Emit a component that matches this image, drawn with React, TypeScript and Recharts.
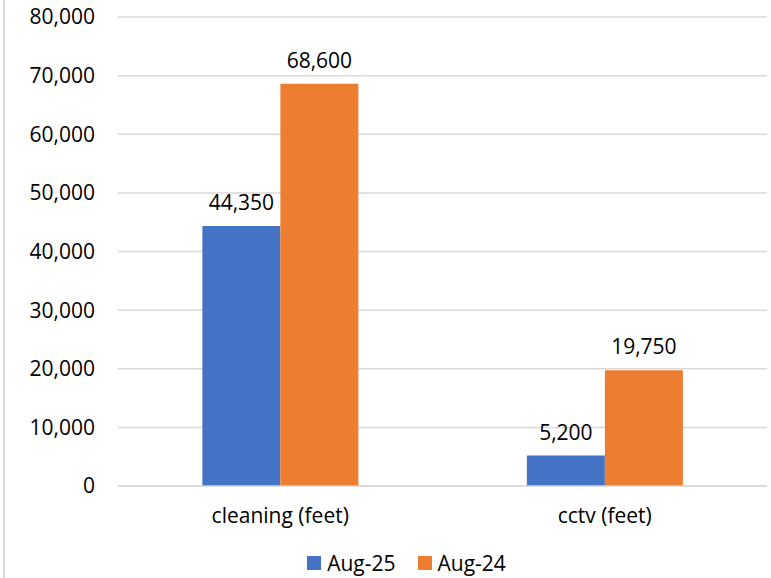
import { Bar, BarChart, CartesianGrid, LabelList, Legend, XAxis, YAxis } from "recharts";

const categories = ["cleaning (feet)", "cctv (feet)"];
const aug25 = [44350, 5200];
const aug24 = [68600, 19750];
const yTicks = [0, 10000, 20000, 30000, 40000, 50000, 60000, 70000, 80000];
const seriesNames = ["Aug-25", "Aug-24"];
const seriesColors = ["#4472C4", "#ED7D31"];

const data = categories.map((name, i) => ({ name, aug25: aug25[i], aug24: aug24[i] }));

const font = "'Open Sans', 'Liberation Sans', sans-serif";
const fmt = (v: number) => v.toLocaleString("en-US");

function LegendBox() {
  return (
    <div style={{ display: "flex", justifyContent: "center", gap: 22, fontSize: 21, lineHeight: "26px", fontFamily: font, color: "#000", paddingTop: 14, paddingLeft: 46 }}>
      {seriesNames.map((n, i) => (
        <span key={n} style={{ display: "flex", alignItems: "center", gap: 6 }}>
          <span style={{ width: 14, height: 14, background: seriesColors[i], display: "inline-block" }} />
          {n}
        </span>
      ))}
    </div>
  );
}

export default function App() {
  return (
    <div style={{ position: "absolute", left: 0, top: 0, width: 771, height: 578, background: "#fff", fontFamily: font }}>
      <div style={{ position: "absolute", left: 3, top: 0, width: 2, height: 578, background: "#d9d9d9" }} />
      <BarChart width={771} height={578} data={data} margin={{ top: 17, right: 4, left: 0, bottom: 0 }} barCategoryGap="26%" barGap={0}>
        <CartesianGrid vertical={false} stroke="#d9d9d9" strokeWidth={1.5} />
        <XAxis dataKey="name" height={50} tickLine={false} axisLine={{ stroke: "#d9d9d9", strokeWidth: 1.5 }} tick={{ fill: "#000", fontSize: 21, fontFamily: font }} tickMargin={16} />
        <YAxis width={118} domain={[0, 80000]} ticks={yTicks} tickFormatter={fmt} axisLine={false} tickLine={false} tickSize={0} tickMargin={23} tick={{ fill: "#000", fontSize: 21, fontFamily: font }} />
        <Legend verticalAlign="bottom" height={42} content={() => <LegendBox />} />
        <Bar dataKey="aug25" name={seriesNames[0]} fill={seriesColors[0]} isAnimationActive={false}>
          <LabelList dataKey="aug25" position="top" offset={16} formatter={(v: any) => fmt(Number(v))} style={{ fill: "#000", fontSize: 21, fontFamily: font }} />
        </Bar>
        <Bar dataKey="aug24" name={seriesNames[1]} fill={seriesColors[1]} isAnimationActive={false}>
          <LabelList dataKey="aug24" position="top" offset={16} formatter={(v: any) => fmt(Number(v))} style={{ fill: "#000", fontSize: 21, fontFamily: font }} />
        </Bar>
      </BarChart>
    </div>
  );
}
